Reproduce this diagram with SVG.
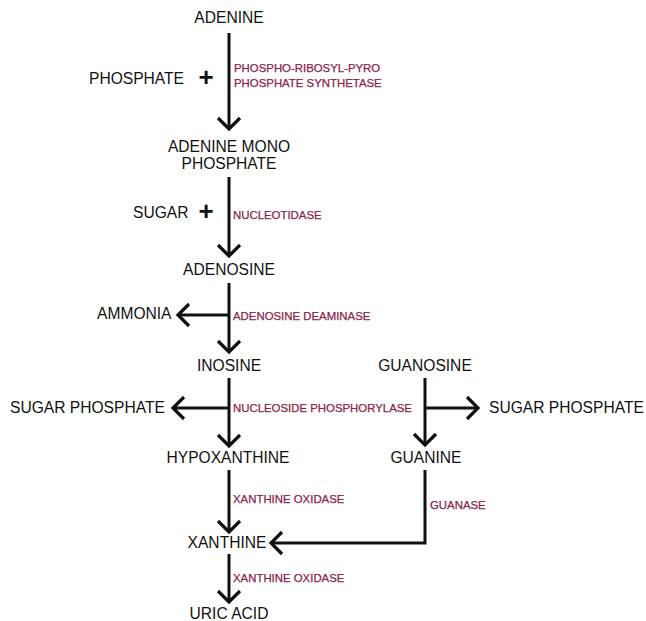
<svg xmlns="http://www.w3.org/2000/svg" width="646" height="621" viewBox="0 0 646 621">
<style>
.n{font-family:"Liberation Sans",Arial,sans-serif;font-size:15.6px;fill:#111}
.e{font-family:"Liberation Sans",Arial,sans-serif;font-size:11.4px;fill:#8b2348;stroke:#8b2348;stroke-width:0.25}
.p{font-family:"Liberation Sans",Arial,sans-serif;font-size:26px;font-weight:bold;fill:#111}
.c{stroke:#111;stroke-width:3;fill:none}
</style>
<defs>
<marker id="ah" markerUnits="userSpaceOnUse" markerWidth="30" markerHeight="30" viewBox="-15 -15 30 30" refX="0" refY="0" orient="auto" overflow="visible">
<path d="M-11,-11 L0,0 L-11,11" fill="none" stroke="#111" stroke-width="3.2"/>
</marker>
</defs>
<rect width="646" height="621" fill="#fff"/>
<g id="connectors">
<path class="c" d="M229,33 V129" marker-end="url(#ah)"/>
<path class="c" d="M229,177 V256" marker-end="url(#ah)"/>
<path class="c" d="M229,283 V352" marker-end="url(#ah)"/>
<path class="c" d="M229,315 H178" marker-end="url(#ah)"/>
<path class="c" d="M229,378 V446" marker-end="url(#ah)"/>
<path class="c" d="M229,408 H173" marker-end="url(#ah)"/>
<path class="c" d="M425,378 V445" marker-end="url(#ah)"/>
<path class="c" d="M425,408 H478" marker-end="url(#ah)"/>
<path class="c" d="M229,470 V532" marker-end="url(#ah)"/>
<path class="c" d="M425,470 V543 H271" marker-end="url(#ah)"/>
<path class="c" d="M229,554 V602" marker-end="url(#ah)"/>
</g>
<g id="adenine"><text class="n" x="229" y="23" text-anchor="middle">ADENINE</text></g>
<g id="phosphate"><text class="n" x="89" y="84">PHOSPHATE</text><text class="p" x="206" y="86" text-anchor="middle">+</text></g>
<g id="enz-prpp"><text class="e" x="234" y="72">PHOSPHO-RIBOSYL-PYRO</text><text class="e" x="234" y="87">PHOSPHATE SYNTHETASE</text></g>
<g id="amp"><text class="n" x="229" y="152" text-anchor="middle">ADENINE MONO</text><text class="n" x="229" y="169" text-anchor="middle">PHOSPHATE</text></g>
<g id="sugar"><text class="n" x="133" y="218">SUGAR</text><text class="p" x="206" y="220" text-anchor="middle">+</text></g>
<g id="enz-nucleotidase"><text class="e" x="233" y="219">NUCLEOTIDASE</text></g>
<g id="adenosine"><text class="n" x="229" y="275" text-anchor="middle">ADENOSINE</text></g>
<g id="ammonia"><text class="n" x="97" y="319">AMMONIA</text></g>
<g id="enz-ada"><text class="e" x="233" y="320">ADENOSINE DEAMINASE</text></g>
<g id="inosine"><text class="n" x="229" y="371" text-anchor="middle">INOSINE</text></g>
<g id="guanosine"><text class="n" x="425" y="371" text-anchor="middle">GUANOSINE</text></g>
<g id="sugar-phosphate-left"><text class="n" x="10" y="413">SUGAR PHOSPHATE</text></g>
<g id="enz-pnp"><text class="e" x="233" y="412">NUCLEOSIDE PHOSPHORYLASE</text></g>
<g id="sugar-phosphate-right"><text class="n" x="489" y="413">SUGAR PHOSPHATE</text></g>
<g id="hypoxanthine"><text class="n" x="228" y="463" text-anchor="middle">HYPOXANTHINE</text></g>
<g id="guanine"><text class="n" x="426" y="463" text-anchor="middle">GUANINE</text></g>
<g id="enz-xo1"><text class="e" x="233" y="503">XANTHINE OXIDASE</text></g>
<g id="enz-guanase"><text class="e" x="430" y="509">GUANASE</text></g>
<g id="xanthine"><text class="n" x="227" y="548" text-anchor="middle">XANTHINE</text></g>
<g id="enz-xo2"><text class="e" x="233" y="582">XANTHINE OXIDASE</text></g>
<g id="uric-acid"><text class="n" x="229" y="619" text-anchor="middle">URIC ACID</text></g>
</svg>
